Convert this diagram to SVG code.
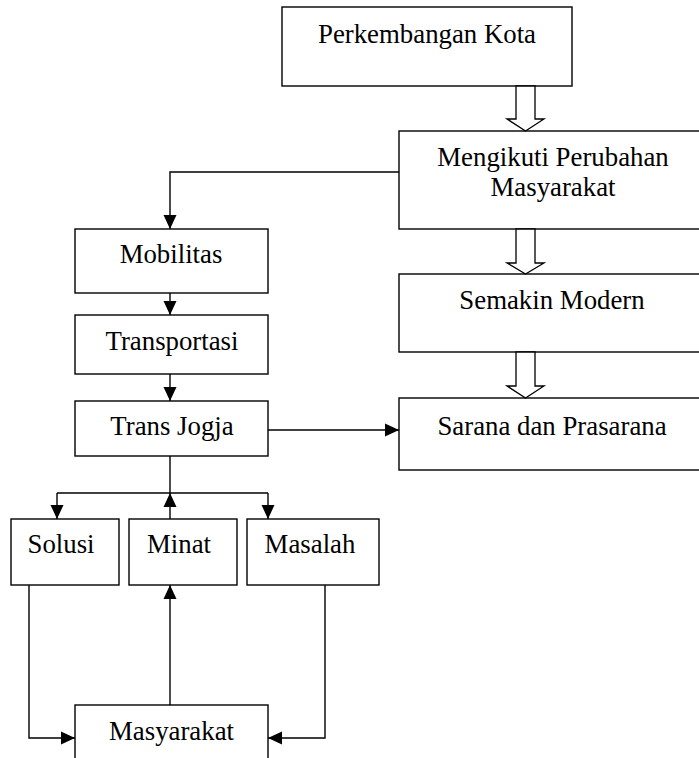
<svg xmlns="http://www.w3.org/2000/svg" width="699" height="758" viewBox="0 0 699 758">
<style>
.box{fill:#fff;stroke:#000;stroke-width:1.4}
.t{font-family:"Liberation Serif","Times New Roman",serif;font-size:26.8px;fill:#000;text-anchor:middle}
.c{fill:none;stroke:#000;stroke-width:1.4}
.h{fill:#fff;stroke:#000;stroke-width:1.3;stroke-linejoin:miter}
</style>
<defs>
<marker id="ah" markerUnits="userSpaceOnUse" markerWidth="16" markerHeight="16" viewBox="0 0 16 16" refX="14" refY="8" orient="auto">
<path d="M0,1.5 L14,8 L0,14.5 Z" fill="#000"/>
</marker>
</defs>
<rect width="699" height="758" fill="#fff"/>
<g id="perkembangan"><rect class="box" x="282" y="7" width="290" height="79"/><text class="t" x="427" y="43">Perkembangan Kota</text></g>
<g id="mengikuti"><rect class="box" x="399" y="131" width="320" height="98"/><text class="t" x="553" y="166">Mengikuti Perubahan</text><text class="t" x="553" y="196">Masyarakat</text></g>
<g id="modern"><rect class="box" x="399" y="274" width="320" height="78"/><text class="t" x="552" y="309">Semakin Modern</text></g>
<g id="sarana"><rect class="box" x="399" y="398" width="320" height="72"/><text class="t" x="552" y="435">Sarana dan Prasarana</text></g>
<g id="mobilitas"><rect class="box" x="75" y="229" width="193" height="64"/><text class="t" x="171" y="263">Mobilitas</text></g>
<g id="transportasi"><rect class="box" x="75" y="315" width="193" height="59"/><text class="t" x="172" y="350">Transportasi</text></g>
<g id="transjogja"><rect class="box" x="75" y="401" width="193" height="55"/><text class="t" x="172" y="435">Trans Jogja</text></g>
<g id="solusi"><rect class="box" x="11" y="519" width="108" height="66"/><text class="t" x="61" y="553">Solusi</text></g>
<g id="minat"><rect class="box" x="129" y="519" width="108" height="66"/><text class="t" x="179" y="553">Minat</text></g>
<g id="masalah"><rect class="box" x="247" y="519" width="132" height="66"/><text class="t" x="310" y="553">Masalah</text></g>
<g id="masyarakat"><rect class="box" x="75" y="705" width="193" height="70"/><text class="t" x="171.5" y="740">Masyarakat</text></g>
<g id="connectors">
<polygon class="h" points="516,86 535,86 535,119 544,119 525.5,131 507,119 516,119"/>
<polygon class="h" points="516,229 535,229 535,263 544,263 525.5,274 507,263 516,263"/>
<polygon class="h" points="516,352 535,352 535,386 544,386 525.5,398 507,386 516,386"/>
<polyline class="c" points="399,172 170,172 170,229" marker-end="url(#ah)"/>
<line class="c" x1="170" y1="293" x2="170" y2="315" marker-end="url(#ah)"/>
<line class="c" x1="170" y1="374" x2="170" y2="401" marker-end="url(#ah)"/>
<line class="c" x1="268" y1="430" x2="399" y2="430" marker-end="url(#ah)"/>
<line class="c" x1="170" y1="456" x2="170" y2="493"/>
<line class="c" x1="57" y1="493" x2="268" y2="493"/>
<line class="c" x1="57" y1="493" x2="57" y2="519" marker-end="url(#ah)"/>
<line class="c" x1="268" y1="493" x2="268" y2="519" marker-end="url(#ah)"/>
<line class="c" x1="170" y1="519" x2="170" y2="493" marker-end="url(#ah)"/>
<polyline class="c" points="29,585 29,738 75,738" marker-end="url(#ah)"/>
<line class="c" x1="170" y1="705" x2="170" y2="585" marker-end="url(#ah)"/>
<polyline class="c" points="325,585 325,738 268,738" marker-end="url(#ah)"/>
</g>
</svg>
